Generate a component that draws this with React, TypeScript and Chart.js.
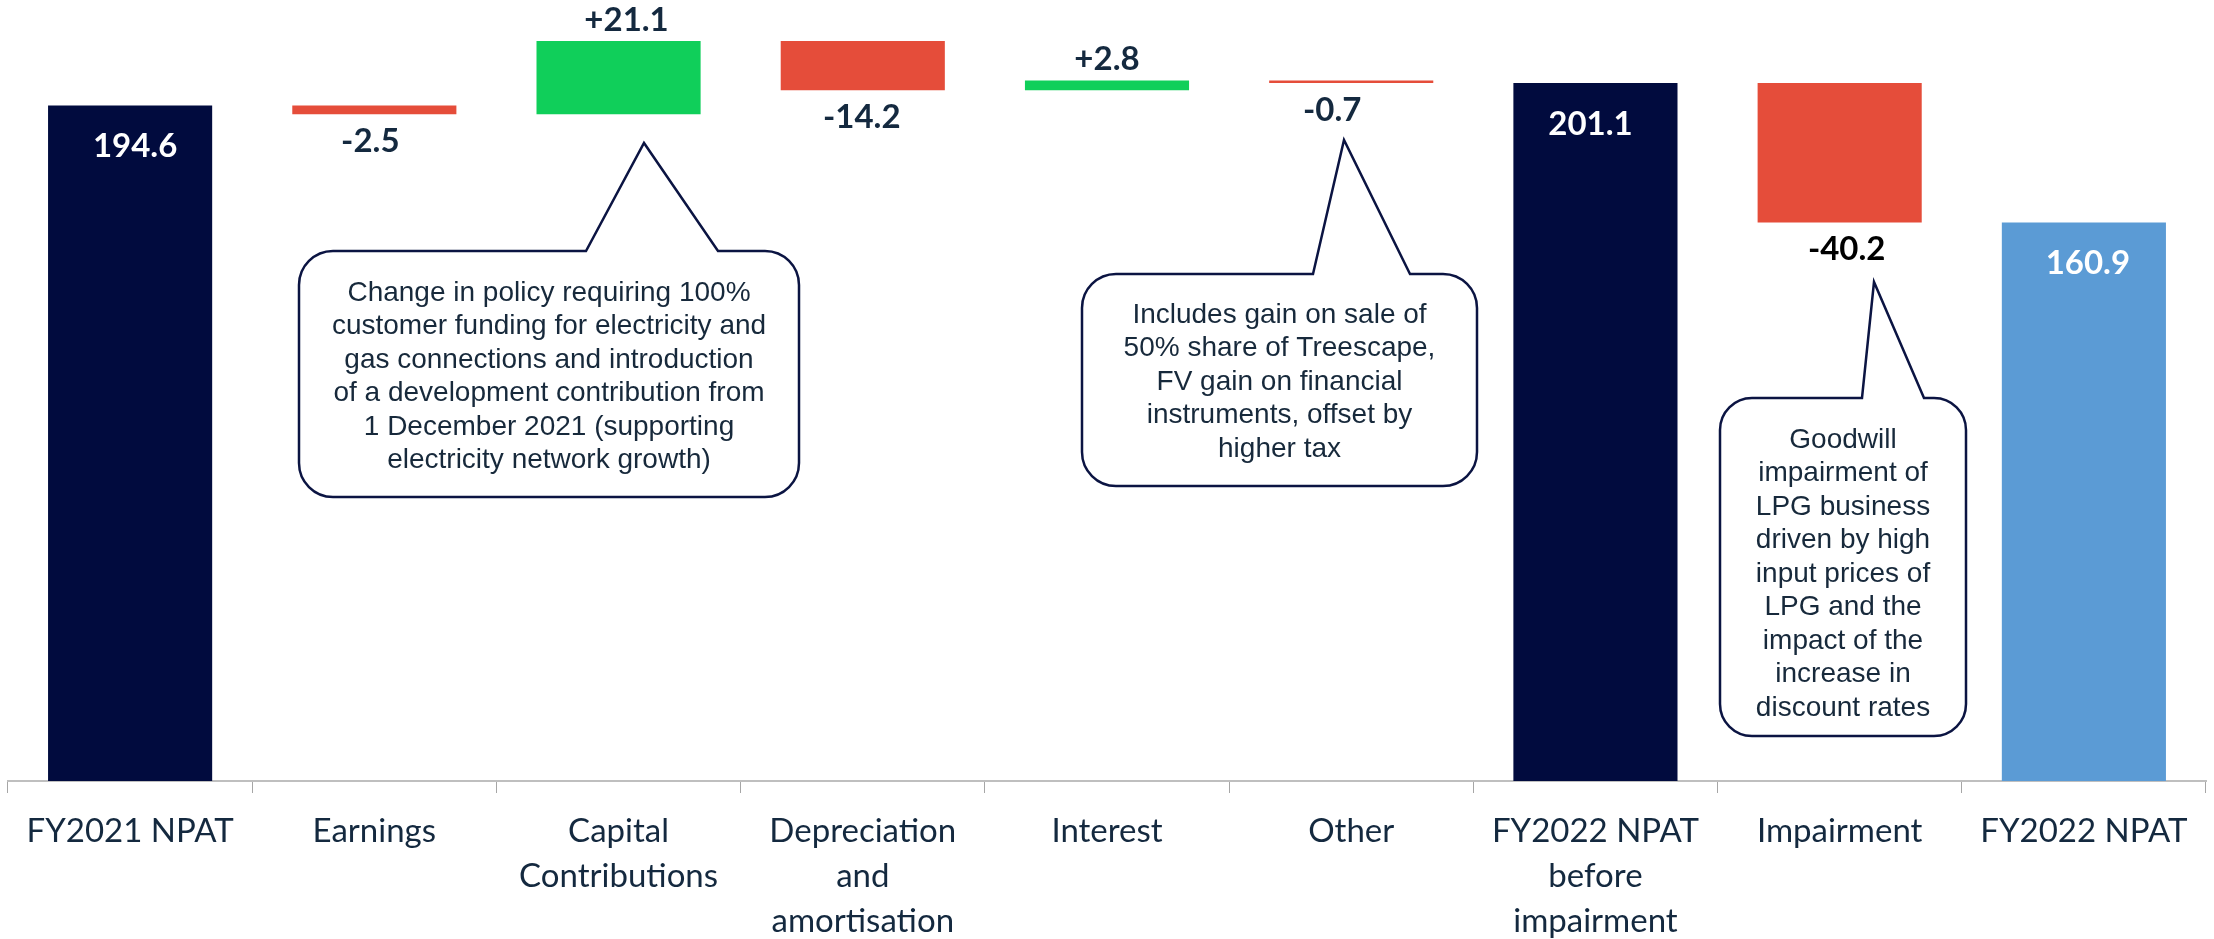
import React, { useEffect, useRef } from 'react';
import { Chart, registerables } from 'chart.js';

Chart.register(...registerables);

// ---------- data ----------
const categories: string[][] = [
  ['FY2021 NPAT'],
  ['Earnings'],
  ['Capital', 'Contributions'],
  ['Depreciation', 'and', 'amortisation'],
  ['Interest'],
  ['Other'],
  ['FY2022 NPAT', 'before', 'impairment'],
  ['Impairment'],
  ['FY2022 NPAT'],
];
const values: number[] = [194.6, -2.5, 21.1, -14.2, 2.8, -0.7, 201.1, -40.2, 160.9];
const isTotal: boolean[] = [true, false, false, false, false, false, true, false, true];
const valueLabels: string[] = ['194.6', '-2.5', '+21.1', '-14.2', '+2.8', '-0.7', '201.1', '-40.2', '160.9'];
const yMin = 0;
const yMax = 225;

const calloutPolicy: string[] = [
  'Change in policy requiring 100%',
  'customer funding for electricity and',
  'gas connections and introduction',
  'of a development contribution from',
  '1 December 2021 (supporting',
  'electricity network growth)',
];
const calloutOther: string[] = [
  'Includes gain on sale of',
  '50% share of Treescape,',
  'FV gain on financial',
  'instruments, offset by',
  'higher tax',
];
const calloutImpairment: string[] = [
  'Goodwill',
  'impairment of',
  'LPG business',
  'driven by high',
  'input prices of',
  'LPG and the',
  'impact of the',
  'increase in',
  'discount rates',
];

// ---------- styles ----------
const NAVY = '#010B3E';
const BLUE = '#5B9BD5';
const RED = '#E54D3A';
const GREEN = '#10CF5A';
const TEXT = '#14293F';
const CALLOUT_TEXT = '#17293B';
const CALLOUT_BORDER = '#0B1442';
// small horizontal nudges of the value labels (px), as placed in the original
const labelNudgeX = [5, -4, 8, -1, 0, -19, -5, 7, 4];

// floating ranges built from the values
const ranges: [number, number][] = (() => {
  let running = 0;
  return values.map((v, i) => {
    if (isTotal[i]) {
      running = v;
      return [0, v] as [number, number];
    }
    const r: [number, number] = [running, running + v];
    running += v;
    return r;
  });
})();

const barColors = values.map((v, i) =>
  i === values.length - 1 ? BLUE : isTotal[i] ? NAVY : v >= 0 ? GREEN : RED
);

type Callout = {
  l: number; t: number; r: number; b: number; rad: number;
  baseL: number; baseR: number; apexX: number; apexY: number;
  textDy: number;
  lines: string[];
};

const callouts: Callout[] = [
  { l: 299, t: 251, r: 799, b: 497, rad: 34, baseL: 586, baseR: 718, apexX: 644, apexY: 143, textDy: 3, lines: calloutPolicy },
  { l: 1082, t: 274, r: 1477, b: 486, rad: 34, baseL: 1313, baseR: 1410, apexX: 1344, apexY: 140, textDy: 2, lines: calloutOther },
  { l: 1720, t: 398, r: 1966, b: 736, rad: 32, baseL: 1862, baseR: 1924, apexX: 1874, apexY: 282, textDy: 7, lines: calloutImpairment },
];

const valueLabelPlugin = {
  id: 'valueLabels',
  afterDatasetsDraw(chart: any) {
    const ctx = chart.ctx;
    const meta = chart.getDatasetMeta(0);
    ctx.save();
    ctx.font = 'bold 33px Lato, "Open Sans", sans-serif';
    ctx.textAlign = 'center';
    ctx.textBaseline = 'middle';
    meta.data.forEach((bar: any, i: number) => {
      const p = bar.getProps(['x', 'y', 'base'], true);
      const top = Math.min(p.y, p.base);
      const bottom = Math.max(p.y, p.base);
      let y: number;
      let color = TEXT;
      if (isTotal[i]) {
        y = top + 41;
        color = '#FFFFFF';
      } else if (values[i] >= 0) {
        y = top - 21;
      } else {
        y = bottom + 27;
        if (i === values.length - 2) color = '#000000';
      }
      ctx.fillStyle = color;
      ctx.fillText(valueLabels[i], p.x + (labelNudgeX[i] || 0), y);
    });
    ctx.restore();
  },
};

const calloutPlugin = {
  id: 'callouts',
  afterDraw(chart: any) {
    const ctx = chart.ctx;
    ctx.save();
    callouts.forEach((c) => {
      ctx.beginPath();
      ctx.moveTo(c.l + c.rad, c.t);
      ctx.lineTo(c.baseL, c.t);
      ctx.lineTo(c.apexX, c.apexY);
      ctx.lineTo(c.baseR, c.t);
      ctx.lineTo(c.r - c.rad, c.t);
      ctx.arcTo(c.r, c.t, c.r, c.t + c.rad, c.rad);
      ctx.lineTo(c.r, c.b - c.rad);
      ctx.arcTo(c.r, c.b, c.r - c.rad, c.b, c.rad);
      ctx.lineTo(c.l + c.rad, c.b);
      ctx.arcTo(c.l, c.b, c.l, c.b - c.rad, c.rad);
      ctx.lineTo(c.l, c.t + c.rad);
      ctx.arcTo(c.l, c.t, c.l + c.rad, c.t, c.rad);
      ctx.closePath();
      ctx.fillStyle = '#FFFFFF';
      ctx.fill();
      ctx.lineWidth = 2.5;
      ctx.strokeStyle = CALLOUT_BORDER;
      ctx.lineJoin = 'miter';
      ctx.stroke();

      ctx.font = '28px "Liberation Sans", Arial, sans-serif';
      ctx.fillStyle = CALLOUT_TEXT;
      ctx.textAlign = 'center';
      ctx.textBaseline = 'middle';
      const lh = 33.5;
      const cx = (c.l + c.r) / 2;
      const cy = (c.t + c.b) / 2 + c.textDy;
      const start = cy - ((c.lines.length - 1) * lh) / 2;
      c.lines.forEach((line, k) => ctx.fillText(line, cx, start + k * lh));
    });
    ctx.restore();
  },
};

export default function App() {
  const canvasRef = useRef<HTMLCanvasElement | null>(null);

  useEffect(() => {
    if (!canvasRef.current) return;
    const chart = new Chart(canvasRef.current, {
      type: 'bar',
      data: {
        labels: categories as any,
        datasets: [
          {
            data: ranges as any,
            backgroundColor: barColors,
            borderWidth: 0,
            borderSkipped: false,
            barPercentage: 0.672,
            categoryPercentage: 1,
          },
        ],
      },
      options: {
        responsive: false,
        animation: false,
        devicePixelRatio: 1,
        layout: { padding: { left: 8, right: 8, top: 0, bottom: 0 } },
        plugins: {
          legend: { display: false },
          tooltip: { enabled: false },
          title: { display: false },
        },
        scales: {
          x: {
            offset: true,
            grid: {
              offset: true,
              drawOnChartArea: false,
              drawTicks: true,
              tickLength: 12,
              color: '#A6A6A6',
              lineWidth: 1,
            },
            border: { display: true, color: '#BFBFBF', width: 2 },
            ticks: {
              color: TEXT,
              font: { family: 'Lato, "Open Sans", sans-serif', size: 33, lineHeight: 45 / 33 },
              padding: 16,
              maxRotation: 0,
              minRotation: 0,
              autoSkip: false,
            },
            afterFit: (scale: any) => {
              scale.height = 158;
            },
          },
          y: {
            display: false,
            min: yMin,
            max: yMax,
          },
        },
      },
      plugins: [valueLabelPlugin, calloutPlugin],
    });
    return () => chart.destroy();
  }, []);

  return (
    <div style={{ position: 'fixed', left: 0, top: 0, width: 2214, height: 939, background: '#FFFFFF' }}>
      <canvas ref={canvasRef} width={2214} height={939} style={{ display: 'block' }} />
    </div>
  );
}
